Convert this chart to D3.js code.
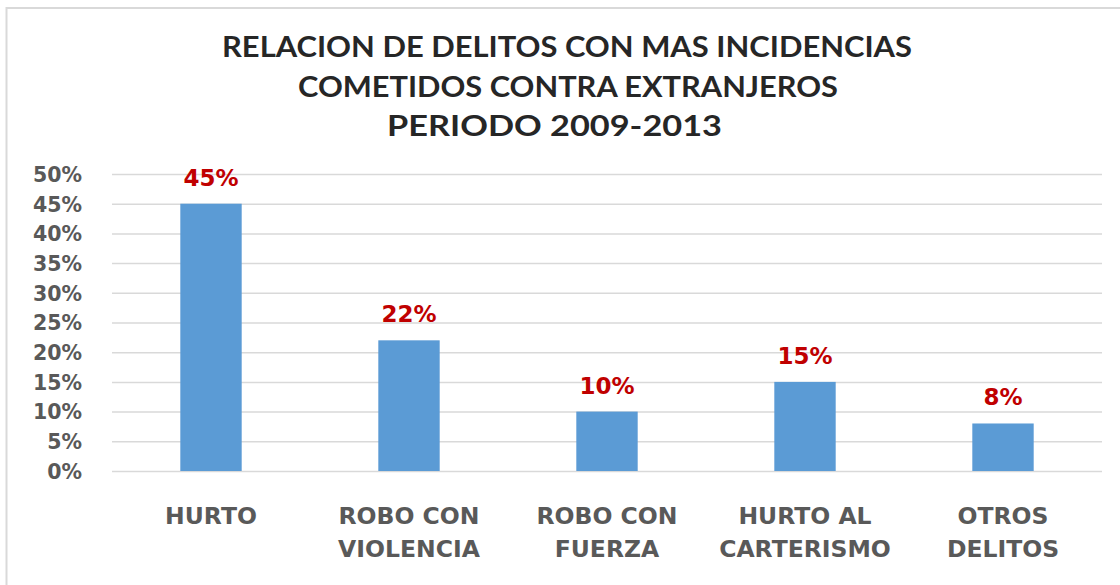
<!DOCTYPE html>
<html><head><meta charset="utf-8">
<script src="https://cdn.jsdelivr.net/npm/d3@7"></script>
<style>body{margin:0;background:#fff}</style>
</head><body><svg id="c" width="1120" height="585"></svg>
<script>
const categories = [["HURTO"],["ROBO CON","VIOLENCIA"],["ROBO CON","FUERZA"],["HURTO AL","CARTERISMO"],["OTROS","DELITOS"]];
const values = [0.45, 0.22, 0.10, 0.15, 0.08];
const valueLabels = ["45%","22%","10%","15%","8%"];
const yTicks = [0,0.05,0.10,0.15,0.20,0.25,0.30,0.35,0.40,0.45,0.50];
const titleLines = ["RELACION DE DELITOS CON MAS INCIDENCIAS","COMETIDOS CONTRA EXTRANJEROS","PERIODO 2009-2013"];

const svg = d3.select("#c");
svg.append("rect").attr("x",6.5).attr("y",8).attr("width",1130).attr("height",600)
  .attr("fill","#fff").attr("stroke","#d9d9d9").attr("stroke-width",2);

const L=112, R=1102, T=174, B=471;
const x = d3.scaleBand().domain(d3.range(values.length)).range([L,R]).paddingInner(0.69).paddingOuter(0.345);
const y = d3.scaleLinear().domain([0,0.5]).range([B,T]);

const tl = [[222,912],[298,838],[387,722]];
svg.append("g").selectAll("text").data(titleLines).join("text")
  .attr("x",(d,i)=>(tl[i][0]+tl[i][1])/2).attr("y",(d,i)=>57+i*39.5)
  .attr("text-anchor","middle").attr("font-family","Lato").attr("font-weight","bold")
  .attr("font-size",28).attr("fill","#262626")
  .attr("textLength",(d,i)=>tl[i][1]-tl[i][0]).attr("lengthAdjust","spacingAndGlyphs")
  .text(d=>d);

svg.append("g").selectAll("line").data(yTicks).join("line")
  .attr("x1",L).attr("x2",R).attr("y1",d=>y(d)+0.5).attr("y2",d=>y(d)+0.5)
  .attr("stroke","#d9d9d9").attr("stroke-width",1.5);

const ax = svg.append("g").attr("transform",`translate(${L-27},0)`)
  .call(d3.axisLeft(y).tickValues(yTicks).tickFormat(d3.format(".0%")).tickSize(0));
ax.select(".domain").remove();
ax.selectAll("text").attr("font-family","DejaVu Sans").attr("font-size",20.5)
  .attr("fill","#595959").attr("font-weight","bold").attr("dy","0.36em");

svg.append("g").selectAll("rect").data(values).join("rect")
  .attr("x",(d,i)=>x(i)).attr("width",x.bandwidth())
  .attr("y",d=>y(d)).attr("height",d=>B-y(d)).attr("fill","#5b9bd5");

svg.append("g").selectAll("text").data(values).join("text")
  .attr("x",(d,i)=>x(i)+x.bandwidth()/2).attr("y",d=>y(d)-18)
  .attr("text-anchor","middle").attr("font-family","DejaVu Sans").attr("font-weight","bold")
  .attr("font-size",23).attr("fill","#c00000").text((d,i)=>valueLabels[i]);

const cg = svg.append("g").selectAll("text").data(categories).join("text")
  .attr("x",(d,i)=>x(i)+x.bandwidth()/2).attr("y",524)
  .attr("text-anchor","middle").attr("font-family","DejaVu Sans").attr("font-weight","bold")
  .attr("font-size",23.5).attr("fill","#595959");
cg.selectAll("tspan").data(d=>d).join("tspan")
  .attr("x",function(){return this.parentNode.getAttribute("x");})
  .attr("dy",(d,i)=>i?33:0).text(d=>d);
</script></body></html>
